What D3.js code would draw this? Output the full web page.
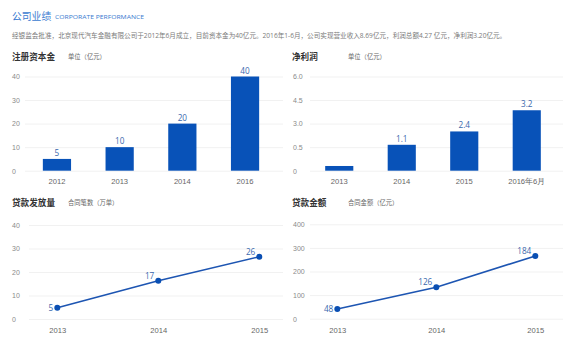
<!DOCTYPE html>
<html><head><meta charset="utf-8">
<script src="https://cdn.jsdelivr.net/npm/d3@7"></script>
<style>
html,body{margin:0;padding:0;background:#fff;}
svg{display:block;font-family:"Open Sans","Noto Sans CJK SC",sans-serif;}
</style></head>
<body><svg id="c" width="577" height="363"></svg>
<script>
// ---- data ----
const capitalYears = ["2012","2013","2014","2016"];
const capitalValues = [5, 10, 20, 40];
const capitalLabels = ["5","10","20","40"];
const capitalTicks = [0,10,20,30,40];
const capitalTickLabels = ["0","10","20","30","40"];

const profitPeriods = ["2013","2014","2015","2016年6月"];
const profitHeights = [0.3, 1.65, 2.5, 3.85];
const profitLabels = ["", "1.1", "2.4", "3.2"];
const profitTicks = [0,1.5,3,4.5,6];
const profitTickLabels = ["0","0.5","3.0","4.5","6.0"];

const loanYears = ["2013","2014","2015"];
const loanCountValues = [4.8, 16.3, 26.5];
const loanCountLabels = ["5","17","26"];
const loanCountTicks = [0,10,20,30,40];
const loanCountTickLabels = ["0","10","20","30","40"];

const loanAmountValues = [41, 133, 266];
const loanAmountLabels = ["48","126","184"];
const loanAmountTicks = [0,100,200,300,400];
const loanAmountTickLabels = ["0","100","200","300","400"];

const headerTitle = "公司业绩";
const headerSub = "CORPORATE PERFORMANCE";
const headerDesc = "经银监会批准，北京现代汽车金融有限公司于2012年6月成立，目前资本金为40亿元。2016年1-6月，公司实现营业收入8.69亿元，利润总额4.27 亿元，净利润3.20亿元。";

// ---- styles ----
const BLUE = "#0852b8", LABEL = "#3a68ad", GRID = "#f1f1f1", TICK = "#8a8a8a";
const svg = d3.select("#c");

svg.append("text").attr("x",12).attr("y",20).attr("font-size",9.8).attr("fill","#3b7bd0").text(headerTitle);
svg.append("text").attr("x",55).attr("y",19.3).attr("font-size",5.6).attr("fill","#3b7bd0")
  .attr("textLength",89).attr("lengthAdjust","spacingAndGlyphs").text(headerSub);
svg.append("text").attr("x",12).attr("y",37.5).attr("font-size",6.6).attr("fill","#7a7a7a").text(headerDesc);

function panelHeader(x, y, title, unit){
  svg.append("text").attr("x",x).attr("y",y).attr("font-size",8.6).attr("fill","#333").attr("font-weight","bold").text(title);
  svg.append("text").attr("x",x+56).attr("y",y-1).attr("font-size",6.3).attr("fill","#666").text(unit);
}

function grid(y, ticks, tickLabels, gx0, gx1, lx){
  const g = svg.append("g").attr("transform",`translate(${gx0},0)`)
    .call(d3.axisLeft(y).tickValues(ticks).tickSize(-(gx1-gx0)).tickFormat((d,i)=>tickLabels[i]));
  g.select(".domain").remove();
  g.selectAll(".tick line").attr("stroke",GRID);
  g.selectAll(".tick text").attr("x", lx-gx0).attr("text-anchor","start").attr("fill",TICK)
    .attr("font-size",7).attr("font-family",null).attr("dy","0.34em");
}

function xAxis(x, yPos){
  const g = svg.append("g").attr("transform",`translate(0,${yPos})`)
    .call(d3.axisBottom(x).tickSize(0).tickPadding(0));
  g.select(".domain").remove();
  g.selectAll(".tick text").attr("fill","#666").attr("font-size",7.6).attr("font-family",null).attr("dy","0");
}

function barPanel(cats, vals, labels, ticks, tickLabels, xr, gx, lx, title, unit, hx){
  panelHeader(hx, 60, title, unit);
  const y = d3.scaleLinear().domain([ticks[0], ticks[ticks.length-1]]).range([170.7, 76.5]);
  grid(y, ticks, tickLabels, gx[0], gx[1], lx);
  const x = d3.scaleBand().domain(cats).range(xr).paddingInner(0.55).paddingOuter(0.275);
  svg.append("g").selectAll("rect").data(vals).join("rect")
    .attr("x",(d,i)=>x(cats[i])).attr("width",x.bandwidth())
    .attr("y",d=>y(d)).attr("height",d=>y(0)-y(d)).attr("fill",BLUE);
  svg.append("g").selectAll("text").data(vals).join("text")
    .attr("x",(d,i)=>x(cats[i])+x.bandwidth()/2).attr("y",d=>y(d)-3)
    .attr("text-anchor","middle").attr("font-size",8.2).attr("fill",LABEL).text((d,i)=>labels[i]);
  xAxis(x, 184);
}

function linePanel(cats, vals, labels, ticks, tickLabels, xr, gx, lx, title, unit, hx, yr){
  panelHeader(hx, 206, title, unit);
  const y = d3.scaleLinear().domain([ticks[0], ticks[ticks.length-1]]).range(yr);
  grid(y, ticks, tickLabels, gx[0], gx[1], lx);
  const x = d3.scalePoint().domain(cats).range(xr);
  svg.append("path").datum(vals)
    .attr("d", d3.line().x((d,i)=>x(cats[i])).y(d=>y(d)))
    .attr("fill","none").attr("stroke","#1d55b2").attr("stroke-width",1.6);
  svg.append("g").selectAll("circle").data(vals).join("circle")
    .attr("cx",(d,i)=>x(cats[i])).attr("cy",d=>y(d)).attr("r",3).attr("fill","#0a4fb3");
  svg.append("g").selectAll("text").data(vals).join("text")
    .attr("x",(d,i)=>x(cats[i])-4).attr("y",(d,i)=>y(d)+(i===0?3:-2))
    .attr("text-anchor","end").attr("font-size",8.2).attr("fill",LABEL).text((d,i)=>labels[i]);
  xAxis(x, 333);
}

barPanel(capitalYears, capitalValues, capitalLabels, capitalTicks, capitalTickLabels,
  [25.6, 276.4], [25, 283], 12, "注册资本金", "单位（亿元）", 12);
barPanel(profitPeriods, profitHeights, profitLabels, profitTicks, profitTickLabels,
  [308, 558], [310, 563], 293, "净利润", "单位（亿元）", 292);
linePanel(loanYears, loanCountValues, loanCountLabels, loanCountTicks, loanCountTickLabels,
  [57.3, 259.3], [29, 283], 12, "贷款发放量", "合同笔数（万单）", 12, [319, 225]);
linePanel(loanYears, loanAmountValues, loanAmountLabels, loanAmountTicks, loanAmountTickLabels,
  [337.3, 535.3], [310, 563], 293, "贷款金额", "合同金额（亿元）", 292, [318.7, 224.3]);
</script></body></html>
